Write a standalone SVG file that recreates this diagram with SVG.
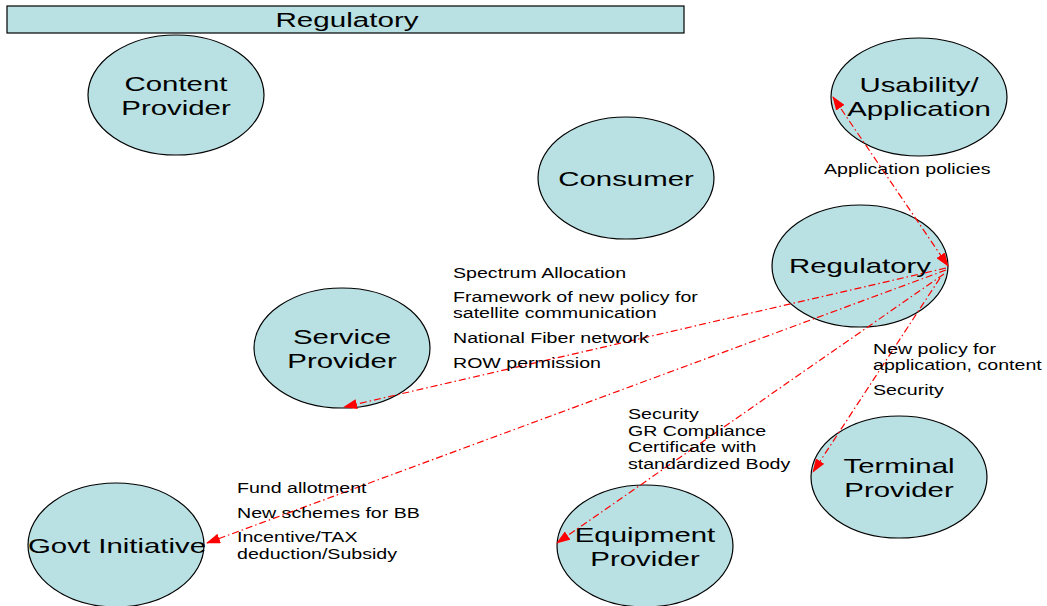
<svg xmlns="http://www.w3.org/2000/svg" width="1047" height="606" viewBox="0 0 1047 606">
<defs>
<style>
.node{fill:#b9e0e3;stroke:#000;stroke-width:1.2}
.nl{font-family:"Liberation Sans",Arial,sans-serif;font-size:21px;fill:#000;text-anchor:middle}
.lb{font-family:"Liberation Sans",Arial,sans-serif;font-size:14px;fill:#000}
.cn{fill:none;stroke:#ff0000;stroke-width:1.2;stroke-dasharray:7 3 1.5 3}
</style>
<marker id="ah" viewBox="0 0 14 10" refX="13" refY="5" markerWidth="14" markerHeight="10" markerUnits="userSpaceOnUse" orient="auto-start-reverse">
<path d="M0,0 L14,5 L0,10 Z" fill="#ff0000"/>
</marker>
</defs>
<rect width="1047" height="606" fill="#fff"/>
<g id="regulatory-bar">
<rect x="7" y="6" width="677" height="27" class="node"/>
<text transform="translate(347,27) scale(1.41,1)" class="nl">Regulatory</text>
</g>
<g id="content-provider">
<ellipse cx="176" cy="95" rx="88" ry="60" class="node"/>
<text transform="translate(176,91) scale(1.4,1)" class="nl">Content<tspan x="0" dy="24">Provider</tspan></text>
</g>
<g id="usability-application">
<ellipse cx="919" cy="97" rx="88" ry="59" class="node"/>
<text transform="translate(919,92) scale(1.4,1)" class="nl">Usability/<tspan x="0" dy="24">Application</tspan></text>
</g>
<g id="consumer">
<ellipse cx="626" cy="178" rx="88" ry="61" class="node"/>
<text transform="translate(626,186) scale(1.4,1)" class="nl">Consumer</text>
</g>
<g id="regulatory">
<ellipse cx="860" cy="266" rx="88" ry="61" class="node"/>
<text transform="translate(860,273) scale(1.4,1)" class="nl">Regulatory</text>
</g>
<g id="service-provider">
<ellipse cx="342" cy="348" rx="88" ry="60" class="node"/>
<text transform="translate(342,344) scale(1.4,1)" class="nl">Service<tspan x="0" dy="24">Provider</tspan></text>
</g>
<g id="terminal-provider">
<ellipse cx="899" cy="477" rx="88" ry="61" class="node"/>
<text transform="translate(899,473) scale(1.4,1)" class="nl">Terminal<tspan x="0" dy="24">Provider</tspan></text>
</g>
<g id="govt-initiative">
<ellipse cx="116" cy="545" rx="88" ry="62" class="node"/>
<text transform="translate(117,553) scale(1.4,1)" class="nl">Govt Initiative</text>
</g>
<g id="equipment-provider">
<ellipse cx="645" cy="546" rx="88" ry="61" class="node"/>
<text transform="translate(645,542) scale(1.4,1)" class="nl">Equipment<tspan x="0" dy="24">Provider</tspan></text>
</g>
<g id="connectors">
<line x1="833" y1="97" x2="948" y2="266" class="cn" marker-start="url(#ah)" marker-end="url(#ah)"/>
<line x1="946" y1="268" x2="344" y2="407" class="cn" marker-end="url(#ah)"/>
<line x1="946" y1="270" x2="207" y2="543" class="cn" marker-end="url(#ah)"/>
<line x1="944" y1="274" x2="557" y2="543" class="cn" marker-end="url(#ah)"/>
<line x1="940" y1="278" x2="813" y2="472" class="cn" marker-end="url(#ah)"/>
</g>
<g id="labels">
<text transform="translate(824,174) scale(1.4,1)" class="lb">Application policies</text>
<text transform="translate(453,278) scale(1.4,1)" class="lb">Spectrum Allocation</text>
<text transform="translate(453,302) scale(1.4,1)" class="lb">Framework of new policy for<tspan x="0" dy="16">satellite communication</tspan></text>
<text transform="translate(453,343) scale(1.4,1)" class="lb">National Fiber network</text>
<text transform="translate(453,368) scale(1.4,1)" class="lb">ROW permission</text>
<text transform="translate(873,354) scale(1.4,1)" class="lb">New policy for<tspan x="0" dy="16">application, content</tspan></text>
<text transform="translate(873,395) scale(1.4,1)" class="lb">Security</text>
<text transform="translate(628,419) scale(1.4,1)" class="lb">Security<tspan x="0" dy="17">GR Compliance</tspan><tspan x="0" dy="16">Certificate with</tspan><tspan x="0" dy="17">standardized Body</tspan></text>
<text transform="translate(237,493) scale(1.4,1)" class="lb">Fund allotment</text>
<text transform="translate(237,518) scale(1.4,1)" class="lb">New schemes for BB</text>
<text transform="translate(237,542) scale(1.4,1)" class="lb">Incentive/TAX<tspan x="0" dy="17">deduction/Subsidy</tspan></text>
</g>
</svg>
